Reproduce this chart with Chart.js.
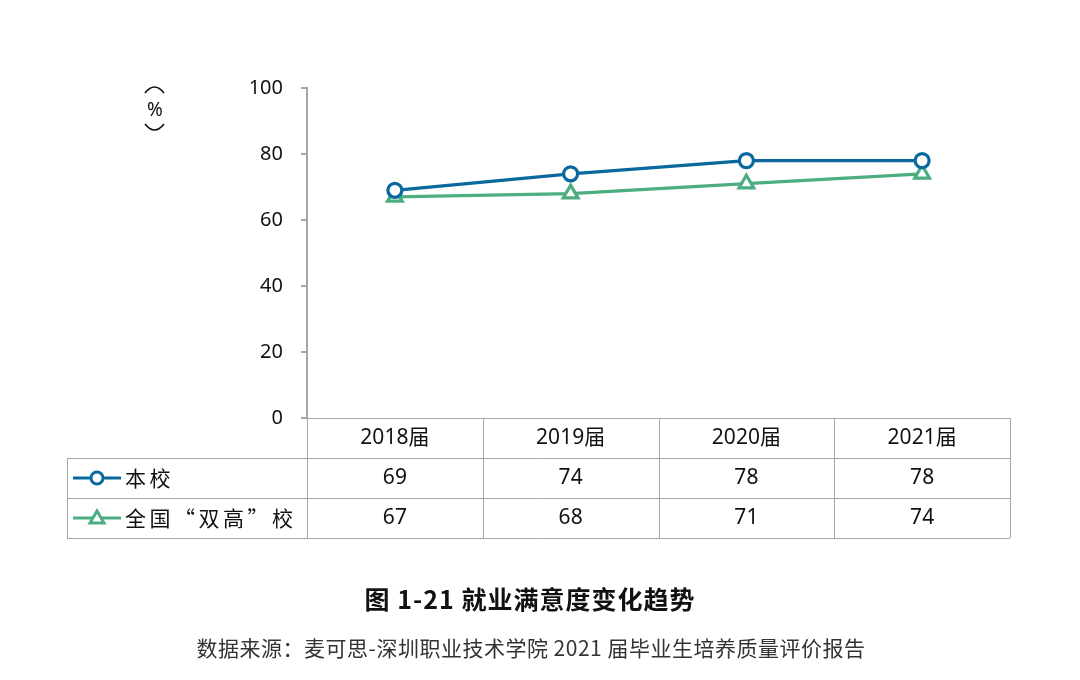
<!DOCTYPE html>
<html>
<head>
<meta charset="utf-8">
<script src="https://cdn.jsdelivr.net/npm/chart.js@4/dist/chart.umd.min.js"></script>
<style>
  body { margin: 0; background: #fff; }
  #wrap { width: 1080px; height: 680px; }
</style>
</head>
<body>
<div id="wrap"><canvas id="satChart" width="1080" height="680"></canvas></div>
<script>
const years = ["2018届", "2019届", "2020届", "2021届"];
const schoolVals = [69, 74, 78, 78];
const nationalVals = [67, 68, 71, 74];
const seriesNames = ["本校", "全国“双高”校"];
const yTicks = [0, 20, 40, 60, 80, 100];

const BLUE = "rgb(10, 104, 156)";
const GREEN = "rgb(76, 174, 128)";
const GRID = "#a6a6a6";
const FONT = "'Noto Sans', 'Noto Sans CJK SC', sans-serif";

const tablePlugin = {
  id: "dataTable",
  afterDraw(chart) {
    const ctx = chart.ctx;
    const area = chart.chartArea;
    const rowH = 40;
    const labelLeft = 67;
    const top = area.bottom;
    const colW = (area.right - area.left) / years.length;

    ctx.save();
    ctx.strokeStyle = GRID;
    ctx.lineWidth = 1;
    ctx.beginPath();
    ctx.moveTo(area.left, top + 0.5); ctx.lineTo(area.right, top + 0.5);
    for (let r = 1; r <= 3; r++) {
      ctx.moveTo(labelLeft, top + r * rowH + 0.5);
      ctx.lineTo(area.right, top + r * rowH + 0.5);
    }
    for (let c = 0; c <= years.length; c++) {
      const x = Math.round(area.left + c * colW) + 0.5;
      ctx.moveTo(x, top); ctx.lineTo(x, top + 3 * rowH);
    }
    ctx.moveTo(labelLeft + 0.5, top + rowH); ctx.lineTo(labelLeft + 0.5, top + 3 * rowH);
    ctx.stroke();

    ctx.fillStyle = "#111";
    ctx.font = "21px " + FONT;
    ctx.textAlign = "center";
    ctx.textBaseline = "middle";
    years.forEach((y, i) => {
      const cx = area.left + (i + 0.5) * colW;
      ctx.fillText(y, cx, top + rowH / 2);
      ctx.fillText(String(schoolVals[i]), cx, top + rowH * 1.5);
      ctx.fillText(String(nationalVals[i]), cx, top + rowH * 2.5);
    });

    // legend keys inside the table
    const keys = [
      { color: BLUE, shape: "circle", label: seriesNames[0] },
      { color: GREEN, shape: "triangle", label: seriesNames[1] }
    ];
    keys.forEach((k, i) => {
      const cy = top + rowH * (1.5 + i);
      ctx.strokeStyle = k.color;
      ctx.lineWidth = 3;
      ctx.beginPath();
      ctx.moveTo(73, cy); ctx.lineTo(121, cy);
      ctx.stroke();
      ctx.fillStyle = "#fff";
      ctx.beginPath();
      if (k.shape === "circle") {
        ctx.arc(97, cy, 6, 0, Math.PI * 2);
      } else {
        ctx.moveTo(97, cy - 7);
        ctx.lineTo(104, cy + 5);
        ctx.lineTo(90, cy + 5);
        ctx.closePath();
      }
      ctx.fill();
      ctx.stroke();
      ctx.fillStyle = "#111";
      ctx.textAlign = "left";
      ctx.font = "21px 'Noto Sans CJK SC', sans-serif";
      ctx.letterSpacing = "3.5px";
      ctx.fillText(k.label, 125, cy);
      ctx.letterSpacing = "0px";
    });

    // unit label, vertical: curved brackets above and below an upright %
    ctx.strokeStyle = "#111";
    ctx.lineWidth = 1.6;
    ctx.beginPath();
    ctx.moveTo(145, 93); ctx.quadraticCurveTo(154.5, 81, 164, 93);
    ctx.moveTo(145, 124); ctx.quadraticCurveTo(154.5, 136, 164, 124);
    ctx.stroke();
    ctx.textAlign = "center";
    ctx.font = "19px " + FONT;
    ctx.fillText("%", 155, 111);

    // caption and source
    ctx.font = "bold 25px 'Noto Sans CJK SC', sans-serif";
    ctx.letterSpacing = "1px";
    ctx.fillText("图 1-21 就业满意度变化趋势", 530, 599);
    ctx.fillStyle = "#333";
    ctx.font = "21px 'Noto Sans CJK SC', sans-serif";
    ctx.letterSpacing = "0.5px";
    ctx.fillText("数据来源：麦可思-深圳职业技术学院 2021 届毕业生培养质量评价报告", 531, 648);
    ctx.restore();
  }
};

new Chart(document.getElementById("satChart").getContext("2d"), {
  type: "line",
  data: {
    labels: years,
    datasets: [
      {
        label: seriesNames[0],
        data: schoolVals,
        borderColor: BLUE,
        backgroundColor: "#fff",
        borderWidth: 3.2,
        pointStyle: "circle",
        pointRadius: 7,
        pointBorderWidth: 3.2,
        pointBackgroundColor: "#fff",
        pointBorderColor: BLUE
      },
      {
        label: seriesNames[1],
        data: nationalVals,
        borderColor: GREEN,
        backgroundColor: "#fff",
        borderWidth: 3.2,
        pointStyle: "triangle",
        pointRadius: 8.5,
        pointBorderWidth: 3.2,
        pointBackgroundColor: "#fff",
        pointBorderColor: GREEN
      }
    ]
  },
  options: {
    responsive: false,
    animation: false,
    layout: { padding: { left: 0, top: 88, right: 70, bottom: 262 } },
    plugins: {
      legend: { display: false },
      tooltip: { enabled: false }
    },
    scales: {
      x: { display: false, offset: true },
      y: {
        min: 0,
        max: 100,
        afterFit: (scale) => { scale.width = 307; },
        afterBuildTicks: (scale) => { scale.ticks = yTicks.map((v) => ({ value: v })); },
        border: { display: true, color: GRID, width: 2 },
        grid: { drawOnChartArea: false, tickLength: 6, color: GRID, lineWidth: 2 },
        ticks: {
          padding: 18,
          color: "#111",
          font: { family: FONT, size: 20 }
        }
      }
    }
  },
  plugins: [tablePlugin]
});
</script>
</body>
</html>
